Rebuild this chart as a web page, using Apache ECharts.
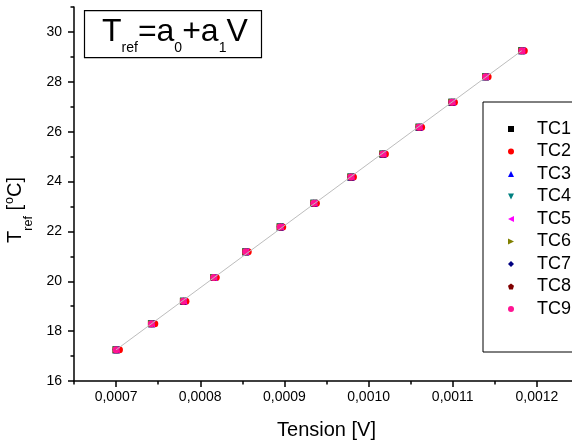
<!DOCTYPE html>
<html>
<head>
<meta charset="utf-8">
<script src="https://cdn.jsdelivr.net/npm/echarts@6/dist/echarts.min.js"></script>
<style>
html,body{margin:0;padding:0;background:#fff;}
#chart{width:572px;height:443px;}
</style>
</head>
<body>
<div id="chart"></div>
<script>
// ---- data ----
const seriesNames = ['TC1','TC2','TC3','TC4','TC5','TC6','TC7','TC8','TC9'];
const seriesColors = ['#000000','#FF0000','#0000FF','#008080','#FF00FF','#808000','#000080','#800000','#FF1493'];
// Tension [V] and T_ref [°C] readings (all thermocouples overlap)
const tension = [0.000700, 0.000742, 0.000780, 0.000816, 0.000854, 0.000895, 0.000935, 0.000979, 0.001017, 0.001060, 0.001099, 0.001139, 0.001182];
const tensionTC2 = [0.000704, 0.000746, 0.000783, 0.000819, 0.000857, 0.000898, 0.000938, 0.000982, 0.001020, 0.001063, 0.001102, 0.001142, 0.001185];
const tref = [17.25, 18.30, 19.20, 20.15, 21.18, 22.18, 23.13, 24.18, 25.10, 26.18, 27.18, 28.20, 29.25];
// linear fit endpoints
const fitTension = [0.000700, 0.001182];
const fitTref = [17.25, 29.25];
// ticks
const xTickValues = [0.0007, 0.0008, 0.0009, 0.0010, 0.0011, 0.0012];
const xTickLabels = ['0,0007','0,0008','0,0009','0,0010','0,0011','0,0012'];
const xMinorTicks = [0.00065, 0.00075, 0.00085, 0.00095, 0.00105, 0.00115, 0.00125];
const yTickValues = [16, 18, 20, 22, 24, 26, 28, 30];
const yTickLabels = ['16','18','20','22','24','26','28','30'];
const yMinorTicks = [17, 19, 21, 23, 25, 27, 29, 31];

const FONT = 'Liberation Sans, Arial, sans-serif';
const symbols = [
  'rect',
  'circle',
  'triangle',
  'path://M0,0 L100,0 L50,100 Z',
  'path://M0,50 L100,0 L100,100 Z',
  'path://M0,0 L100,50 L0,100 Z',
  'diamond',
  'path://M50,0 L100,38 L81,100 L19,100 L0,38 Z',
  'circle'
];

function pairs(xs, ys){ return xs.map((x,i)=>[x, ys[i]]); }
function labelFor(vals, labels, v){
  const i = vals.findIndex(t => Math.abs(t - v) < 1e-9);
  return i >= 0 ? labels[i] : '';
}

const chart = echarts.init(document.getElementById('chart'), null, {renderer:'canvas'});

const series = seriesNames.map((name, i) => ({
  name: name,
  type: 'scatter',
  xAxisIndex: 0, yAxisIndex: 0,
  symbol: symbols[i],
  symbolSize: 7,
  itemStyle: {color: seriesColors[i], opacity: 1},
  data: pairs(i === 1 ? tensionTC2 : tension, tref),
  z: 2 + i,
  emphasis: {disabled: true}
}));
series.push({
  name: 'fit',
  type: 'line',
  xAxisIndex: 0, yAxisIndex: 0,
  data: pairs(fitTension, fitTref),
  symbol: 'none',
  lineStyle: {color: '#BDBDBD', width: 1},
  z: 20,
  silent: true
});

const axisLineStyle = {color:'#000', width:1.5};

chart.setOption({
  animation: false,
  backgroundColor: '#fff',
  textStyle: {fontFamily: FONT},
  title: {
    text: '{m|T}{s|ref}{m|=a}{s|0}{m|+a}{s|1}{m|V}',
    left: 84, top: 10.5,
    padding: [5.7, 14, 3.4, 18],
    borderColor: '#000', borderWidth: 1.2,
    backgroundColor: '#fff',
    textStyle: {
      fontFamily: FONT, color: '#000', fontWeight: 'normal',
      rich: {
        m: {fontSize: 32, lineHeight: 36, verticalAlign: 'top', color: '#000', fontWeight: 'normal', fontFamily: FONT},
        s: {fontSize: 14, lineHeight: 14, padding: [24.6,0,0,0], verticalAlign: 'top', color: '#000', fontWeight: 'normal', fontFamily: FONT}
      }
    }
  },
  grid: {left: 74, top: 7, right: -7, bottom: 62, containLabel: false, outerBoundsMode: 'none'},
  xAxis: [{
    type: 'value', min: 0.00065, max: 0.00125, position: 'bottom',
    axisLine: {show: true, onZero: false, lineStyle: axisLineStyle},
    axisTick: {show: true, length: 6, customValues: xTickValues, lineStyle: axisLineStyle},
    axisLabel: {customValues: xTickValues, formatter: v => labelFor(xTickValues, xTickLabels, v),
      fontSize: 14, color: '#000', margin: 9, fontFamily: FONT},
    splitLine: {show: false},
    name: 'Tension [V]', nameLocation: 'middle', nameGap: 39,
    nameTextStyle: {fontSize: 20, color: '#000', fontFamily: FONT}
  }, {
    type: 'value', min: 0.00065, max: 0.00125, position: 'bottom',
    axisLine: {show: false},
    axisTick: {show: true, length: 3.5, customValues: xMinorTicks, lineStyle: axisLineStyle},
    axisLabel: {show: false},
    splitLine: {show: false}
  }],
  yAxis: [{
    type: 'value', min: 16, max: 31, position: 'left',
    axisLine: {show: true, onZero: false, lineStyle: axisLineStyle},
    axisTick: {show: true, length: 6, customValues: yTickValues, lineStyle: axisLineStyle},
    axisLabel: {customValues: yTickValues, formatter: v => labelFor(yTickValues, yTickLabels, v),
      fontSize: 14, color: '#000', margin: 12, fontFamily: FONT},
    splitLine: {show: false},
    name: '{m|T}{s|ref}{m| [}{u|o}{m|C]}',
    nameLocation: 'middle', nameGap: 33, nameRotate: 90,
    nameTextStyle: {
      color: '#000', fontFamily: FONT, fontSize: 20,
      padding: [0, 32, 0, 0],
      rich: {
        m: {fontSize: 20, lineHeight: 22, padding: [6,0,0,0], verticalAlign: 'top', color:'#000', fontFamily: FONT},
        s: {fontSize: 12.5, lineHeight: 12, padding: [23,0,0,0], verticalAlign: 'top', color:'#000', fontFamily: FONT},
        u: {fontSize: 12.5, lineHeight: 12, padding: [3.5,0,0,1], verticalAlign: 'top', color:'#000', fontFamily: FONT}
      }
    }
  }, {
    type: 'value', min: 16, max: 31, position: 'left',
    axisLine: {show: false},
    axisTick: {show: true, length: 3.5, customValues: yMinorTicks, lineStyle: axisLineStyle},
    axisLabel: {show: false},
    splitLine: {show: false}
  }],
  legend: {
    data: seriesNames,
    orient: 'vertical',
    left: 483, top: 102,
    width: 200,
    padding: [18, 60, 34, 25],
    itemWidth: 6, itemHeight: 6,
    itemGap: 4.5,
    borderColor: '#000', borderWidth: 1,
    backgroundColor: '#fff',
    selectedMode: false,
    textStyle: {fontSize: 18, lineHeight: 18, color: '#000', fontFamily: FONT, padding: [0,0,0,18]}
  },
  series: series
});
</script>
</body>
</html>
